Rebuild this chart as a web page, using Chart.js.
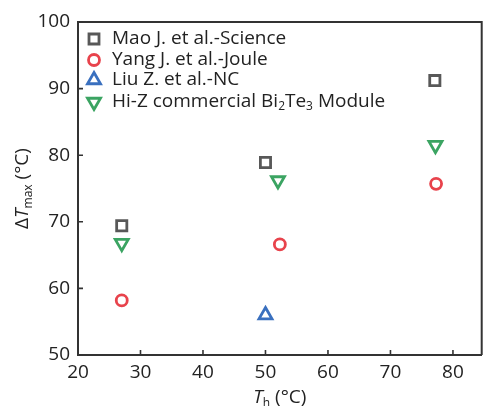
<!DOCTYPE html>
<html>
<head>
<meta charset="utf-8">
<script src="https://cdn.jsdelivr.net/npm/chart.js@4.4.1/dist/chart.umd.min.js"></script>
<style>
  html, body { margin: 0; padding: 0; background: #fff; }
  canvas { display: block; }
</style>
</head>
<body>
<canvas id="chart" width="492" height="406"></canvas>
<script>
// data
const maoX = [27, 50, 77.1];
const maoY = [69.4, 78.9, 91.2];
const yangX = [27, 52.3, 77.3];
const yangY = [58.2, 66.6, 75.7];
const liuX = [50];
const liuY = [56];
const hizX = [27, 52, 77.2];
const hizY = [66.8, 76.2, 81.5];

const seriesNames = ['Mao J. et al.-Science', 'Yang J. et al.-Joule', 'Liu Z. et al.-NC', 'Hi-Z commercial Bi2Te3 Module'];
const xTicks = [20, 30, 40, 50, 60, 70, 80];
const yTicks = [50, 60, 70, 80, 90, 100];

const FONT = '"Open Sans", "Noto Sans", sans-serif';
const AXIS = '#333333';
const colors = ['#585858', '#e8434c', '#3a70bf', '#3ba462'];

function pts(xs, ys) {
    return xs.map((x, i) => ({ x: x, y: ys[i] }));
}

// draws text made of parts (normal / italic / subscript) centred on x
function drawRich(ctx, parts, x, y) {
    let total = 0;
    parts.forEach(p => { ctx.font = p.font; total += ctx.measureText(p.t).width; });
    let cx = x - total / 2;
    ctx.textAlign = 'left';
    ctx.textBaseline = 'alphabetic';
    parts.forEach(p => {
        ctx.font = p.font;
        ctx.fillText(p.t, cx, y + (p.dy || 0));
        cx += ctx.measureText(p.t).width;
    });
}

function marker(ctx, kind, x, y, color) {
    ctx.save();
    ctx.strokeStyle = color;
    ctx.lineWidth = 2.8;
    ctx.beginPath();
    if (kind === 'rect') {
        ctx.rect(x - 5, y - 5, 10, 10);
    } else if (kind === 'circle') {
        ctx.arc(x, y, 5.5, 0, Math.PI * 2);
    } else {
        const r = 7.5;
        const s = kind === 'down' ? -1 : 1;
        ctx.moveTo(x, y - s * r);
        ctx.lineTo(x + r * Math.sin(Math.PI / 3), y + s * r / 2);
        ctx.lineTo(x - r * Math.sin(Math.PI / 3), y + s * r / 2);
        ctx.closePath();
    }
    ctx.stroke();
    ctx.restore();
}

const decorPlugin = {
    id: 'decor',
    afterDraw(chart) {
        const ctx = chart.ctx;
        const a = chart.chartArea;
        const xs = chart.scales.x;
        const ys = chart.scales.y;
        ctx.save();
        ctx.strokeStyle = AXIS;
        ctx.lineWidth = 2;
        // box: top and right lines
        ctx.beginPath();
        ctx.moveTo(a.left, a.top);
        ctx.lineTo(a.right, a.top);
        ctx.lineTo(a.right, a.bottom);
        ctx.stroke();
        // inward ticks
        ctx.lineWidth = 1.6;
        ctx.beginPath();
        xTicks.forEach(v => {
            const px = xs.getPixelForValue(v);
            ctx.moveTo(px, a.bottom);
            ctx.lineTo(px, a.bottom - 5);
        });
        yTicks.forEach(v => {
            const py = ys.getPixelForValue(v);
            ctx.moveTo(a.left, py);
            ctx.lineTo(a.left + 5, py);
        });
        ctx.stroke();

        // axis titles
        ctx.fillStyle = '#222';
        drawRich(ctx, [
            { t: 'T', font: 'italic 19px ' + FONT },
            { t: 'h', font: '12px ' + FONT, dy: 4 },
            { t: ' (°C)', font: '19px ' + FONT }
        ], (a.left + a.right) / 2, 403);

        ctx.save();
        ctx.translate(28, (a.top + a.bottom) / 2);
        ctx.rotate(-Math.PI / 2);
        drawRich(ctx, [
            { t: 'Δ', font: '19px ' + FONT },
            { t: 'T', font: 'italic 19px ' + FONT },
            { t: 'max', font: '12px ' + FONT, dy: 4 },
            { t: ' (°C)', font: '19px ' + FONT }
        ], 0, 0);
        ctx.restore();

        // legend
        const kinds = ['rect', 'circle', 'up', 'down'];
        const rowY = [39, 60, 80, 102];
        ctx.fillStyle = '#222';
        ctx.textBaseline = 'middle';
        seriesNames.forEach((name, i) => {
            marker(ctx, kinds[i], 94, rowY[i], colors[i]);
            ctx.font = '19px ' + FONT;
            ctx.textAlign = 'left';
            if (name.indexOf('Bi2Te3') >= 0) {
                // write Bi2Te3 with subscripts
                let cx = 112;
                const bits = [['Hi-Z commercial Bi', 19, 0], ['2', 12, 5], ['Te', 19, 0], ['3', 12, 5], [' Module', 19, 0]];
                bits.forEach(b => {
                    ctx.font = b[1] + 'px ' + FONT;
                    ctx.fillText(b[0], cx, rowY[i] + b[2]);
                    cx += ctx.measureText(b[0]).width;
                });
            } else {
                ctx.fillText(name, 112, rowY[i]);
            }
        });
        ctx.restore();
    }
};

const common = { showLine: false, borderWidth: 2.8, backgroundColor: 'rgba(0,0,0,0)' };

new Chart(document.getElementById('chart'), {
    type: 'scatter',
    data: {
        datasets: [
            Object.assign({ label: seriesNames[0], data: pts(maoX, maoY), pointStyle: 'rect', pointRadius: 7.2, borderColor: colors[0] }, common),
            Object.assign({ label: seriesNames[1], data: pts(yangX, yangY), pointStyle: 'circle', pointRadius: 5.5, borderColor: colors[1] }, common),
            Object.assign({ label: seriesNames[2], data: pts(liuX, liuY), pointStyle: 'triangle', pointRadius: 7.5, borderColor: colors[2] }, common),
            Object.assign({ label: seriesNames[3], data: pts(hizX, hizY), pointStyle: 'triangle', rotation: 180, pointRadius: 7.5, borderColor: colors[3] }, common)
        ]
    },
    options: {
        responsive: false,
        animation: false,
        devicePixelRatio: 1,
        // chart.js keeps a few px on the right, pull the plot back to the edge
        layout: { padding: { top: 22, right: -3, left: 0, bottom: 0 } },
        plugins: { legend: { display: false }, tooltip: { enabled: false } },
        elements: { point: { hoverRadius: 7 } },
        scales: {
            x: {
                type: 'linear',
                min: 20,
                max: 84.6,
                ticks: { stepSize: 10, includeBounds: false, color: '#222', font: { family: FONT, size: 19 }, padding: 6 },
                grid: { display: true, drawOnChartArea: false, drawTicks: false },
                border: { display: true, color: AXIS, width: 2 },
                afterFit: s => { s.height = 51; s.paddingLeft = 0; s.paddingRight = 0; }
            },
            y: {
                type: 'linear',
                min: 50,
                max: 100,
                ticks: { stepSize: 10, color: '#222', font: { family: FONT, size: 19 }, padding: 8 },
                grid: { display: true, drawOnChartArea: false, drawTicks: false },
                border: { display: true, color: AXIS, width: 2 },
                afterFit: s => { s.width = 78; s.paddingTop = 0; s.paddingBottom = 0; }
            }
        }
    },
    plugins: [decorPlugin]
});
</script>
</body>
</html>
